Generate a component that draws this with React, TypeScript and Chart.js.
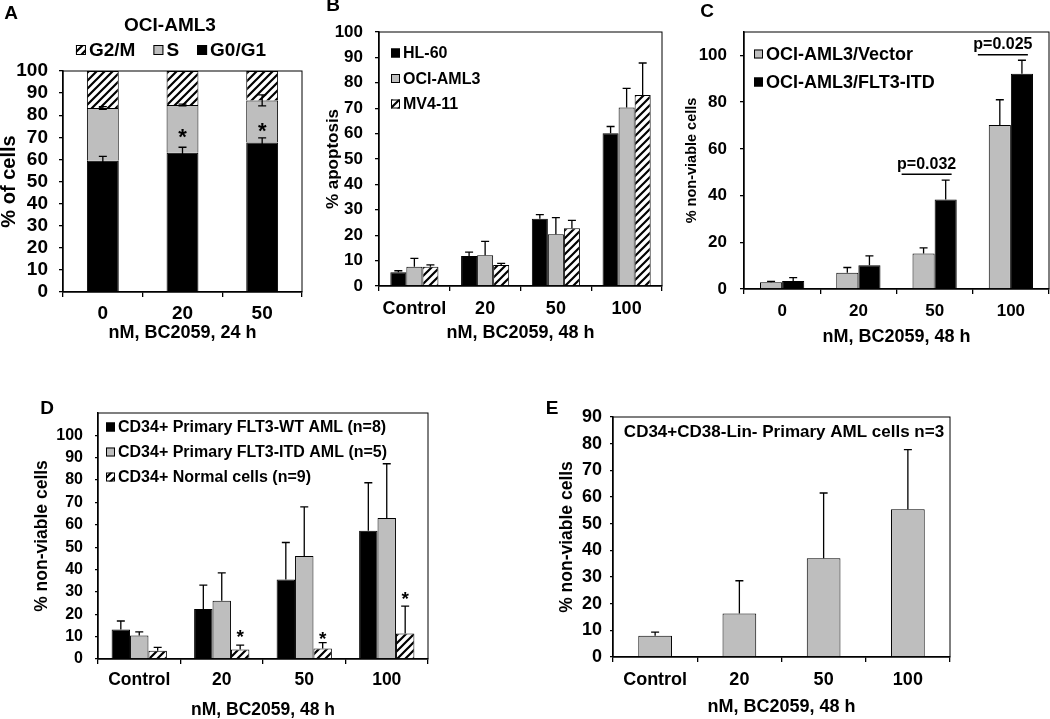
import React, { useEffect, useRef } from 'react';
import { Chart, registerables } from 'chart.js';
Chart.register(...registerables);

const FAM = "'Liberation Sans', Arial, Helvetica, sans-serif";
const GRAY = '#bebebe';

// ---------- Panel A: OCI-AML3 cell cycle ----------
const catsA = ['0', '20', '50'];
const g0g1A = [59.4, 63.0, 67.7];
const g0g1ErrA = [2.0, 2.5, 2.0];
const sPhaseA = [23.9, 21.6, 19.0];
const sPhaseErrA = [0.6, 0.4, 2.5];
const g2mA = [16.7, 15.4, 13.3];
const starsA = [null, 72, 75];
const ticksA = [0, 10, 20, 30, 40, 50, 60, 70, 80, 90, 100];

// ---------- Panel B: % apoptosis ----------
const catsB = ['Control', '20', '50', '100'];
const hl60B = [5.4, 11.8, 26.5, 60.1];
const hl60ErrB = [0.6, 1.5, 1.6, 2.7];
const ociB = [7.6, 12.1, 20.4, 70.3];
const ociErrB = [3.3, 5.5, 6.5, 7.5];
const mv4B = [7.6, 8.3, 22.7, 75.2];
const mv4ErrB = [0.7, 0.6, 3.1, 12.6];
const ticksB = [0, 10, 20, 30, 40, 50, 60, 70, 80, 90, 100];

// ---------- Panel C: vector vs FLT3-ITD ----------
const catsC = ['0', '20', '50', '100'];
const vecC = [2.9, 7.0, 15.2, 70.2];
const vecErrC = [0.4, 2.2, 2.4, 10.8];
const itdC = [3.4, 10.2, 38.3, 92.1];
const itdErrC = [1.5, 4.0, 8.3, 5.8];
const pLabelsC = ['', '', 'p=0.032', 'p=0.025'];
const pLevelsC = [null, null, 49.1, 100.3];
const ticksC = [0, 20, 40, 60, 80, 100];

// ---------- Panel D: primary cells ----------
const catsD = ['Control', '20', '50', '100'];
const wtD = [13.2, 22.4, 35.6, 57.3];
const wtErrD = [3.8, 10.6, 16.5, 21.5];
const itdD = [10.5, 26.1, 46.1, 63.1];
const itdErrD = [1.6, 12.4, 21.9, 24.2];
const normD = [3.7, 4.3, 4.7, 11.4];
const normErrD = [1.5, 1.9, 2.6, 12.2];
const starsD = [null, 11.4, 10.7, 28.4];
const ticksD = [0, 10, 20, 30, 40, 50, 60, 70, 80, 90, 100];

// ---------- Panel E: LSC ----------
const catsE = ['Control', '20', '50', '100'];
const lscE = [8.0, 16.3, 37.0, 55.4];
const lscErrE = [1.3, 12.3, 24.5, 22.4];
const ticksE = [0, 10, 20, 30, 40, 50, 60, 70, 80, 90];

type TextItem = { t: string; x: number; y: number; size: number; align?: CanvasTextAlign; rot?: number };
type LegendCfg = { x: number; y: number; dir: 'h' | 'v'; order: number[]; box: number; size: number; gap: number; center?: boolean };
type PCfg = { labels: string[]; levels: (number | null)[]; dx0: number; dx1: number; size: number; lift: number };

function drawText(ctx: CanvasRenderingContext2D, t: string, x: number, y: number, size: number, align: CanvasTextAlign = 'center', rot = 0) {
  ctx.save();
  ctx.translate(x, y);
  ctx.rotate(rot);
  ctx.font = `bold ${size}px ${FAM}`;
  ctx.textAlign = align;
  ctx.textBaseline = 'middle';
  ctx.fillStyle = '#000';
  ctx.fillText(t, 0, 0);
  ctx.restore();
}

function makeHelper(cfg: { texts: TextItem[]; legend?: LegendCfg; pvals?: PCfg; starSize?: number }) {
  const starSize = cfg.starSize || 18;
  return {
    id: 'helper',
    afterDatasetsDraw(chart: any) {
      const ctx: CanvasRenderingContext2D = chart.ctx;
      const ys = chart.scales.y;
      ctx.save();
      chart.data.datasets.forEach((ds: any, di: number) => {
        const meta = chart.getDatasetMeta(di);
        meta.data.forEach((el: any, i: number) => {
          const e = ds.errors ? ds.errors[i] : null;
          if (e != null) {
            const v = ys.getValueForPixel(el.y);
            const up = ys.getPixelForValue(v + e);
            ctx.strokeStyle = '#000';
            ctx.lineWidth = 1.3;
            ctx.beginPath();
            ctx.moveTo(el.x, el.y);
            ctx.lineTo(el.x, up);
            ctx.moveTo(el.x - 4, up);
            ctx.lineTo(el.x + 4, up);
            if (ds.errDown) {
              const dn = ys.getPixelForValue(v - e);
              ctx.moveTo(el.x, el.y);
              ctx.lineTo(el.x, dn);
              ctx.moveTo(el.x - 4, dn);
              ctx.lineTo(el.x + 4, dn);
            }
            ctx.stroke();
          }
          const s = ds.stars ? ds.stars[i] : null;
          if (s != null) drawText(ctx, '*', el.x, ys.getPixelForValue(s) + starSize * 0.25, starSize);
        });
      });
      const a = chart.chartArea;
      ctx.strokeStyle = '#000';
      ctx.lineWidth = 1;
      ctx.strokeRect(a.left, a.top, a.right - a.left, a.bottom - a.top);
      ctx.restore();
    },
    afterDraw(chart: any) {
      const ctx: CanvasRenderingContext2D = chart.ctx;
      ctx.save();
      cfg.texts.forEach((t) => drawText(ctx, t.t, t.x, t.y, t.size, t.align || 'center', t.rot || 0));
      const L = cfg.legend;
      if (L) {
        ctx.font = `bold ${L.size}px ${FAM}`;
        let x = L.x;
        let y = L.y;
        if (L.dir === 'h' && L.center) {
          let total = 0;
          L.order.forEach((i, k) => {
            total += L.box + 3 + ctx.measureText(chart.data.datasets[i].label).width + (k > 0 ? L.gap : 0);
          });
          x = L.x - total / 2;
        }
        L.order.forEach((i) => {
          const ds = chart.data.datasets[i];
          ctx.fillStyle = ds.backgroundColor;
          ctx.fillRect(x, y - L.box / 2, L.box, L.box);
          ctx.strokeStyle = '#000';
          ctx.lineWidth = 1;
          ctx.strokeRect(x + 0.5, y - L.box / 2 + 0.5, L.box - 1, L.box - 1);
          ctx.fillStyle = '#000';
          ctx.font = `bold ${L.size}px ${FAM}`;
          ctx.textAlign = 'left';
          ctx.textBaseline = 'middle';
          ctx.fillText(ds.label, x + L.box + 3, y + 1);
          if (L.dir === 'h') x += L.box + 3 + ctx.measureText(ds.label).width + L.gap;
          else y += L.gap;
        });
      }
      const P = cfg.pvals;
      if (P) {
        const xs = chart.scales.x;
        const ys = chart.scales.y;
        P.levels.forEach((lv, i) => {
          if (lv == null) return;
          const cx = xs.getPixelForValue(i);
          const py = ys.getPixelForValue(lv);
          ctx.strokeStyle = '#000';
          ctx.lineWidth = 1.5;
          ctx.beginPath();
          ctx.moveTo(cx + P.dx0, py);
          ctx.lineTo(cx + P.dx1, py);
          ctx.stroke();
          drawText(ctx, P.labels[i], cx + (P.dx0 + P.dx1) / 2, py - P.lift, P.size);
        });
      }
      ctx.restore();
    },
  };
}

function makeHatch(): CanvasPattern {
  const c = document.createElement('canvas');
  c.width = 8;
  c.height = 8;
  const g = c.getContext('2d')!;
  g.fillStyle = '#fff';
  g.fillRect(0, 0, 8, 8);
  g.strokeStyle = '#000';
  g.lineWidth = 2.2;
  g.beginPath();
  g.moveTo(0, 8); g.lineTo(8, 0);
  g.moveTo(-4, 4); g.lineTo(4, -4);
  g.moveTo(4, 12); g.lineTo(12, 4);
  g.stroke();
  return g.createPattern(c, 'repeat')!;
}

type Geo = {
  W: number; H: number; left: number; right: number; top: number; bottom: number;
  yMax: number; yTicks: number[]; yTickSize: number; yTickLen: number; yTickPad: number;
  xTickSize: number; xTickPad: number;
  yTitle: string; yTitleSize: number; yTitlePad: number;
  xTitle: string; xTitleSize: number; xTitlePad: number;
  stacked?: boolean; catPct: number; barPct: number;
};

function baseOptions(p: Geo): any {
  const font = (size: number) => ({ family: FAM, size, weight: 'bold' as const, lineHeight: 1.2 });
  return {
    responsive: false,
    animation: false,
    devicePixelRatio: 1,
    layout: { padding: { left: 0, top: p.top, right: p.W - p.right, bottom: 0 } },
    plugins: { legend: { display: false }, tooltip: { enabled: false }, title: { display: false } },
    datasets: { bar: { categoryPercentage: p.catPct, barPercentage: p.barPct, borderColor: '#000', borderWidth: 1 } },
    scales: {
      x: {
        type: 'category',
        stacked: !!p.stacked,
        offset: true,
        grid: { display: true, drawOnChartArea: false, drawTicks: true, tickLength: 5, color: '#000', lineWidth: 1.3, offset: true },
        border: { display: true, color: '#000', width: 1.5 },
        ticks: { color: '#000', font: font(p.xTickSize), padding: p.xTickPad, maxRotation: 0, autoSkip: false },
        title: {
          display: true, text: p.xTitle, color: '#000',
          font: { family: FAM, size: p.xTitleSize, weight: 'bold', lineHeight: 1 },
          padding: { top: 0, bottom: p.xTitlePad },
        },
        afterFit: (s: any) => { s.height = p.H - p.bottom; },
      },
      y: {
        type: 'linear',
        stacked: !!p.stacked,
        min: 0,
        max: p.yMax,
        afterBuildTicks: (s: any) => { s.ticks = p.yTicks.map((v) => ({ value: v })); },
        grid: { display: true, drawOnChartArea: false, drawTicks: true, tickLength: p.yTickLen, color: '#000', lineWidth: 1.3 },
        border: { display: true, color: '#000', width: 1.5 },
        ticks: { color: '#000', font: font(p.yTickSize), padding: p.yTickPad, autoSkip: false },
        title: {
          display: true, text: p.yTitle, color: '#000',
          font: { family: FAM, size: p.yTitleSize, weight: 'bold', lineHeight: 1 },
          padding: { top: p.yTitlePad, bottom: 0 },
        },
        afterFit: (s: any) => { s.width = p.left; },
      },
    },
  };
}

type PanelPos = { x: number; y: number; w: number; h: number };
const posA: PanelPos = { x: 0, y: 0, w: 315, h: 360 };
const posB: PanelPos = { x: 315, y: 0, w: 350, h: 360 };
const posC: PanelPos = { x: 665, y: 0, w: 385, h: 360 };
const posD: PanelPos = { x: 0, y: 360, w: 540, h: 359 };
const posE: PanelPos = { x: 540, y: 360, w: 510, h: 359 };

export default function App() {
  const refA = useRef<HTMLCanvasElement>(null);
  const refB = useRef<HTMLCanvasElement>(null);
  const refC = useRef<HTMLCanvasElement>(null);
  const refD = useRef<HTMLCanvasElement>(null);
  const refE = useRef<HTMLCanvasElement>(null);

  useEffect(() => {
    const hatch = makeHatch();
    const charts: Chart[] = [];

    // Panel A
    charts.push(new Chart(refA.current!, {
      type: 'bar',
      data: {
        labels: catsA,
        datasets: [
          { label: 'G0/G1', data: g0g1A, backgroundColor: '#000', errors: g0g1ErrA, errDown: true } as any,
          { label: 'S', data: sPhaseA, backgroundColor: GRAY, errors: sPhaseErrA, errDown: true, stars: starsA } as any,
          { label: 'G2/M', data: g2mA, backgroundColor: hatch } as any,
        ],
      },
      options: baseOptions({
        W: posA.w, H: posA.h, left: 63, right: 302, top: 71, bottom: 292,
        yMax: 100, yTicks: ticksA, yTickSize: 19, yTickLen: 4, yTickPad: 11,
        xTickSize: 19, xTickPad: 5,
        yTitle: '% of cells', yTitleSize: 20, yTitlePad: -1,
        xTitle: 'nM, BC2059, 24 h', xTitleSize: 18, xTitlePad: 18,
        stacked: true, catPct: 1, barPct: 0.4,
      }),
      plugins: [makeHelper({
        starSize: 22,
        texts: [
          { t: 'A', x: 11, y: 14, size: 19 },
          { t: 'OCI-AML3', x: 170, y: 26, size: 19 },
        ],
        legend: { x: 171, y: 50, dir: 'h', center: true, order: [2, 1, 0], box: 10, size: 19, gap: 18 },
      })],
    }));

    // Panel B
    charts.push(new Chart(refB.current!, {
      type: 'bar',
      data: {
        labels: catsB,
        datasets: [
          { label: 'HL-60', data: hl60B, backgroundColor: '#000', errors: hl60ErrB } as any,
          { label: 'OCI-AML3', data: ociB, backgroundColor: GRAY, errors: ociErrB } as any,
          { label: 'MV4-11', data: mv4B, backgroundColor: hatch, errors: mv4ErrB } as any,
        ],
      },
      options: baseOptions({
        W: posB.w, H: posB.h, left: 64, right: 347, top: 32, bottom: 286,
        yMax: 100, yTicks: ticksB, yTickSize: 17, yTickLen: 4, yTickPad: 12,
        xTickSize: 18, xTickPad: 7,
        yTitle: '% apoptosis', yTitleSize: 17, yTitlePad: 9.5,
        xTitle: 'nM, BC2059, 48 h', xTitleSize: 18, xTitlePad: 17.5,
        catPct: 0.68, barPct: 1,
      }),
      plugins: [makeHelper({
        texts: [{ t: 'B', x: 18, y: 6, size: 19 }],
        legend: { x: 76, y: 53, dir: 'v', order: [0, 1, 2], box: 9, size: 16, gap: 25.5 },
      })],
    }));

    // Panel C
    charts.push(new Chart(refC.current!, {
      type: 'bar',
      data: {
        labels: catsC,
        datasets: [
          { label: 'OCI-AML3/Vector', data: vecC, backgroundColor: GRAY, errors: vecErrC } as any,
          { label: 'OCI-AML3/FLT3-ITD', data: itdC, backgroundColor: '#000', errors: itdErrC } as any,
        ],
      },
      options: baseOptions({
        W: posC.w, H: posC.h, left: 79, right: 384, top: 32, bottom: 289,
        yMax: 110, yTicks: ticksC, yTickSize: 17, yTickLen: 4, yTickPad: 13,
        xTickSize: 17, xTickPad: 7,
        yTitle: '% non-viable cells', yTitleSize: 14.5, yTitlePad: 19.5,
        xTitle: 'nM, BC2059, 48 h', xTitleSize: 18, xTitlePad: 14,
        catPct: 0.58, barPct: 1,
      }),
      plugins: [makeHelper({
        texts: [{ t: 'C', x: 42, y: 12, size: 19 }],
        legend: { x: 89, y: 54, dir: 'v', order: [0, 1], box: 9, size: 18, gap: 28 },
        pvals: { labels: pLabelsC, levels: pLevelsC, dx0: -33, dx1: 17, size: 16, lift: 10 },
      })],
    }));

    // Panel D
    charts.push(new Chart(refD.current!, {
      type: 'bar',
      data: {
        labels: catsD,
        datasets: [
          { label: 'CD34+ Primary FLT3-WT AML (n=8)', data: wtD, backgroundColor: '#000', errors: wtErrD } as any,
          { label: 'CD34+ Primary FLT3-ITD AML (n=5)', data: itdD, backgroundColor: GRAY, errors: itdErrD } as any,
          { label: 'CD34+ Normal cells (n=9)', data: normD, backgroundColor: hatch, errors: normErrD, stars: starsD } as any,
        ],
      },
      options: baseOptions({
        W: posD.w, H: posD.h, left: 98, right: 428, top: 53, bottom: 299,
        yMax: 110, yTicks: ticksD, yTickSize: 16, yTickLen: 3, yTickPad: 12,
        xTickSize: 17.5, xTickPad: 6,
        yTitle: '% non-viable cells', yTitleSize: 17.5, yTitlePad: 33.5,
        xTitle: 'nM, BC2059, 48 h', xTitleSize: 17.5, xTitlePad: 0,
        catPct: 0.67, barPct: 1,
      }),
      plugins: [makeHelper({
        starSize: 19,
        texts: [{ t: 'D', x: 47, y: 49, size: 19 }],
        legend: { x: 106, y: 67, dir: 'v', order: [0, 1, 2], box: 9, size: 16, gap: 25 },
      })],
    }));

    // Panel E
    charts.push(new Chart(refE.current!, {
      type: 'bar',
      data: {
        labels: catsE,
        datasets: [
          { label: 'CD34+CD38-Lin- Primary AML cells n=3', data: lscE, backgroundColor: GRAY, errors: lscErrE } as any,
        ],
      },
      options: baseOptions({
        W: posE.w, H: posE.h, left: 73, right: 410, top: 57, bottom: 297,
        yMax: 90, yTicks: ticksE, yTickSize: 18, yTickLen: 3, yTickPad: 8,
        xTickSize: 18, xTickPad: 7,
        yTitle: '% non-viable cells', yTitleSize: 17.5, yTitlePad: 18,
        xTitle: 'nM, BC2059, 48 h', xTitleSize: 18, xTitlePad: 3,
        catPct: 0.4, barPct: 1,
      }),
      plugins: [makeHelper({
        texts: [
          { t: 'E', x: 12, y: 49, size: 19 },
          { t: 'CD34+CD38-Lin- Primary AML cells n=3', x: 244, y: 72, size: 17 },
        ],
      })],
    }));

    return () => charts.forEach((c) => c.destroy());
  }, []);

  const cv = (ref: React.RefObject<HTMLCanvasElement>, p: PanelPos) => (
    <canvas
      ref={ref}
      width={p.w}
      height={p.h}
      style={{ position: 'absolute', left: p.x, top: p.y, width: p.w, height: p.h }}
    />
  );

  return (
    <div style={{ position: 'fixed', left: 0, top: 0, width: 1050, height: 719, background: '#fff', overflow: 'hidden' }}>
      {cv(refA, posA)}
      {cv(refB, posB)}
      {cv(refC, posC)}
      {cv(refD, posD)}
      {cv(refE, posE)}
    </div>
  );
}
